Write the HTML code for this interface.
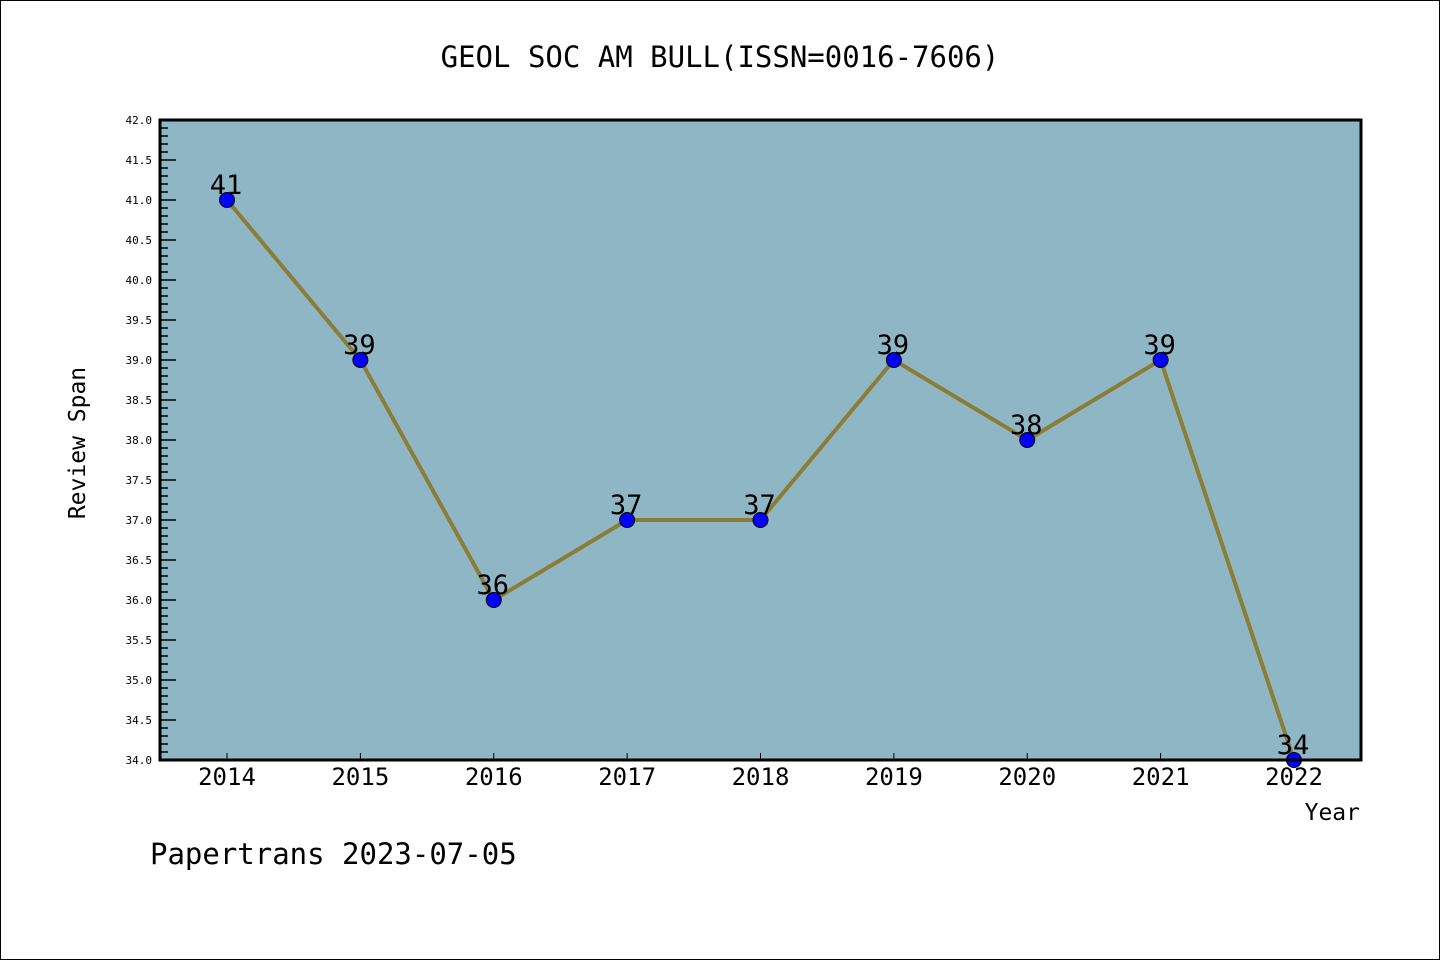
<!DOCTYPE html>
<html><head><meta charset="utf-8"><style>
html,body{margin:0;padding:0;background:#fff}
svg{display:block}
text{font-family:"DejaVu Sans Mono","Liberation Mono",monospace}
</style></head><body>
<svg id="chart" width="1440" height="960" xmlns="http://www.w3.org/2000/svg">
<rect x="0.5" y="0.5" width="1439" height="959" fill="#fff" stroke="#000" stroke-width="1"/>
<text x="720" y="67" font-size="29" text-anchor="middle">GEOL SOC AM BULL(ISSN=0016-7606)</text>
<rect x="160" y="120" width="1201" height="640" fill="#8fb6c4"/>
<g id="yaxis"></g>
<g id="xaxis"></g>
<g id="series"></g>
<rect x="160" y="120" width="1201" height="640" fill="none" stroke="#000" stroke-width="3"/>
<text x="85" y="443" font-size="23" text-anchor="middle" transform="rotate(-90 85 443)">Review Span</text>
<text x="1360" y="820" font-size="23" text-anchor="end">Year</text>
<text x="150" y="864" font-size="29">Papertrans 2023-07-05</text>
</svg>
<script>
const years = ["2014","2015","2016","2017","2018","2019","2020","2021","2022"];
const values = [41,39,36,37,37,39,38,39,34];
const yTicks = ["34.0","34.5","35.0","35.5","36.0","36.5","37.0","37.5","38.0","38.5","39.0","39.5","40.0","40.5","41.0","41.5","42.0"];
const NS="http://www.w3.org/2000/svg";
const yMin=34,yMax=42,plotTop=120,plotBot=760;
function yS(v){return plotBot-(v-yMin)/(yMax-yMin)*(plotBot-plotTop);}
function xS(i){return 227+i*(1294-227)/(years.length-1);}
function mk(tag,attrs,parent){const e=document.createElementNS(NS,tag);for(const k in attrs)e.setAttribute(k,attrs[k]);parent.appendChild(e);return e;}
const ya=document.getElementById('yaxis');
for(let v=yMin*10;v<=yMax*10;v++){
  const y=yS(v/10);const major=v%5===0;
  const t=mk('line',{x1:160,x2:major?176:168,y1:y,y2:y,stroke:'#000','stroke-width':1.5},ya);
  
  
}
yTicks.forEach(s=>{
  const t=mk('text',{x:152,y:yS(parseFloat(s))+4,'font-size':11,'text-anchor':'end'},ya);
  t.textContent=s;
  
  
});
const xa=document.getElementById('xaxis');
years.forEach((yr,i)=>{
  const x=xS(i);
  const l=mk('line',{x1:x,x2:x,y1:760,y2:753,stroke:'#000','stroke-width':1},xa);
  
  
  const t=mk('text',{x:x,y:785,'font-size':24,'text-anchor':'middle','font-family':'Liberation Sans, sans-serif'},xa);
  t.textContent=yr;
  
  
});
const sg=document.getElementById('series');
const pts=values.map((v,i)=>xS(i)+','+yS(v)).join(' ');
const pl=mk('polyline',{points:pts,fill:'none',stroke:'#8b7d35','stroke-width':4,'stroke-linejoin':'round'},sg);


values.forEach((v,i)=>{
  const c=mk('circle',{cx:xS(i),cy:yS(v),r:7.5,fill:'#0000ff',stroke:'#000','stroke-width':1},sg);
  
  
  const t=mk('text',{x:xS(i)-1,y:yS(v)-6,'font-size':27,'text-anchor':'middle',fill:'#000','font-family':'Liberation Sans, sans-serif'},sg);
  t.textContent=String(v);
  
  
});
</script>
</body></html>
